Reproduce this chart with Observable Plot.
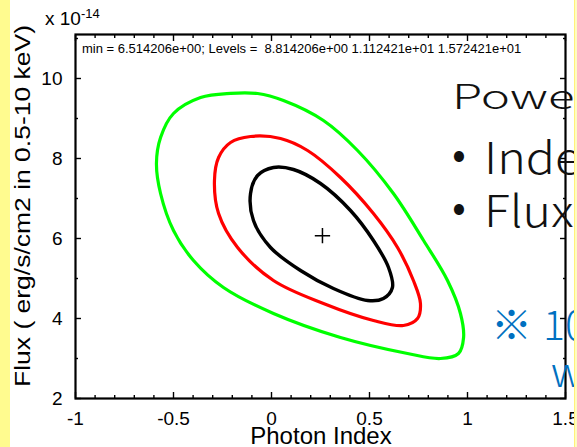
<!DOCTYPE html>
<html>
<head>
<meta charset="utf-8">
<script src="https://cdn.jsdelivr.net/npm/d3@7"></script>
<script src="https://cdn.jsdelivr.net/npm/@observablehq/plot@0.6"></script>
<style>
  body { margin: 0; background: #fff; }
  #wrap { position: relative; width: 577px; height: 447px; overflow: hidden; background: #fff; }
  #wrap svg { position: absolute; left: 0; top: 0; }
  .ov { position: absolute; white-space: nowrap; line-height: 1; font-family: "Noto Sans CJK JP", "Noto Sans", sans-serif; font-weight: 300; transform-origin: 0 0; }
  .blk { color: #111; }
  .blue { color: #0070c0; }
  #ylw-left { position: absolute; left: 0; top: 0; width: 10px; height: 447px; background: #fffb8f; }
  #ylw-right { position: absolute; left: 574px; top: 0; width: 3px; height: 447px; background: #fffcc0; border-left: 1px solid #fff27a; }
</style>
</head>
<body>
<div id="wrap"></div>
<script>
// ---- data (Photon Index, Flux in 1e-14 erg/s/cm2) ----
const greenX = [-0.587, -0.566, -0.500, -0.398, -0.245, 0.010, 0.352, 0.694, 0.862, 0.954, 0.980, 0.964, 0.898, 0.776, 0.622, 0.439, 0.265, 0.061, -0.071, -0.209, -0.362, -0.500, -0.566];
const greenY = [7.875, 7.125, 6.200, 5.450, 4.775, 4.125, 3.525, 3.125, 3.000, 3.125, 3.525, 4.125, 4.950, 5.950, 7.125, 8.200, 8.950, 9.450, 9.625, 9.630, 9.525, 9.125, 8.525];

const redX = [-0.107, -0.209, -0.270, -0.291, -0.270, -0.173, 0.010, 0.265, 0.520, 0.673, 0.745, 0.760, 0.724, 0.643, 0.520, 0.352, 0.184, 0.046];
const redY = [8.550, 8.400, 8.025, 7.450, 6.625, 5.775, 4.950, 4.375, 3.950, 3.825, 4.000, 4.375, 4.950, 5.775, 6.625, 7.525, 8.200, 8.500];

const blackX = [0.010, -0.071, -0.107, -0.092, -0.005, 0.148, 0.316, 0.490, 0.571, 0.617, 0.597, 0.520, 0.403, 0.250, 0.112];
const blackY = [7.775, 7.575, 7.125, 6.450, 5.775, 5.200, 4.750, 4.450, 4.500, 4.775, 5.275, 5.950, 6.700, 7.375, 7.725];

const bestFit = [{x: 0.26, y: 6.07}];

const xMajor = [-1, -0.5, 0, 0.5, 1, 1.5];
const xMinor = [-0.9, -0.8, -0.7, -0.6, -0.4, -0.3, -0.2, -0.1, 0.1, 0.2, 0.3, 0.4, 0.6, 0.7, 0.8, 0.9, 1.1, 1.2, 1.3, 1.4];
const yMajor = [2, 4, 6, 8, 10];
const yMinor = [3, 5, 7, 9, 11];

const infoText = "min = 6.514206e+00; Levels =  8.814206e+00 1.112421e+01 1.572421e+01";
const xLabel = "Photon Index";
const yLabel = "Flux ( erg/s/cm2 in 0.5-10 keV)";

const toRows = (xs, ys) => xs.map((x, i) => ({x, y: ys[i]}));
const green = toRows(greenX, greenY);
const red = toRows(redX, redY);
const black = toRows(blackX, blackY);

const fmt = d => String(d);
const blank = () => "";

const svg = Plot.plot({
  width: 577,
  height: 447,
  marginLeft: 75,
  marginRight: 12,
  marginTop: 34,
  marginBottom: 49,
  style: {background: "transparent", fontFamily: "'Liberation Sans', Arial, sans-serif", fontSize: "19px", color: "black", overflow: "visible"},
  x: {domain: [-1, 1.5]},
  y: {domain: [2, 11.1]},
  marks: [
    Plot.line(green, {x: "x", y: "y", stroke: "#00ff00", strokeWidth: 3.2, curve: "catmull-rom-closed"}),
    Plot.line(red, {x: "x", y: "y", stroke: "#ff0000", strokeWidth: 3.2, curve: "catmull-rom-closed"}),
    Plot.line(black, {x: "x", y: "y", stroke: "#000", strokeWidth: 3.4, curve: "catmull-rom-closed"}),
    Plot.dot(bestFit, {x: "x", y: "y", symbol: "plus", r: 5, stroke: "#000", strokeWidth: 1.5}),
    Plot.axisX({anchor: "bottom", ticks: xMajor, tickSize: -6, tickPadding: 19, tickFormat: fmt, label: null, strokeWidth: 1.4}),
    Plot.axisX({anchor: "bottom", ticks: xMinor, tickSize: -3, tickFormat: blank, label: null, strokeWidth: 1.4}),
    Plot.axisX({anchor: "top", ticks: xMajor, tickSize: -6, tickFormat: blank, label: null, strokeWidth: 1.4}),
    Plot.axisX({anchor: "top", ticks: xMinor, tickSize: -3, tickFormat: blank, label: null, strokeWidth: 1.4}),
    Plot.axisY({anchor: "left", ticks: yMajor, tickSize: -6, tickPadding: 19, tickFormat: fmt, label: null, strokeWidth: 1.4}),
    Plot.axisY({anchor: "left", ticks: yMinor, tickSize: -3, tickFormat: blank, label: null, strokeWidth: 1.4}),
    Plot.axisY({anchor: "right", ticks: yMajor, tickSize: -6, tickFormat: blank, label: null, strokeWidth: 1.4}),
    Plot.axisY({anchor: "right", ticks: yMinor, tickSize: -3, tickFormat: blank, label: null, strokeWidth: 1.4}),
    Plot.frame({stroke: "#000", strokeWidth: 2.2})
  ]
});

const s = d3.select(svg);
const ff = "'Liberation Sans', Arial, sans-serif";
s.append("text").attr("x", 82).attr("y", 53).attr("text-anchor", "start").attr("font-family", ff).attr("font-size", 13).attr("fill", "#000").text(infoText);
s.append("text").attr("x", 321).attr("y", 444).attr("text-anchor", "middle").attr("font-family", ff).attr("font-size", 24).attr("fill", "#000").text(xLabel);
s.append("text").attr("transform", "translate(30,206) rotate(-90)").attr("text-anchor", "middle")
  .attr("font-family", ff).attr("font-size", 22).attr("fill", "#000")
  .attr("textLength", 362).attr("lengthAdjust", "spacingAndGlyphs").text(yLabel);
const exp = s.append("text").attr("x", 45).attr("y", 25).attr("text-anchor", "start").attr("font-family", ff).attr("font-size", 19).attr("fill", "#000");
exp.append("tspan").text("x 10");
exp.append("tspan").attr("font-size", 13).attr("dy", -7).text("-14");

const wrap = document.getElementById("wrap");
wrap.appendChild(svg);

function ov(text, cls, left, top, size, sx) {
  const d = document.createElement("div");
  d.className = "ov " + cls;
  d.style.left = left + "px";
  d.style.top = top + "px";
  d.style.fontSize = size + "px";
  if (sx) d.style.transform = "scaleX(" + sx + ")";
  d.textContent = text;
  wrap.appendChild(d);
}
ov("Power-law", "blk", 452, 78, 34, 1.45);
ov("•", "blk", 452, 128, 44);
ov("Index", "blk", 484, 133, 44, 1.1);
ov("•", "blk", 452, 181, 44);
ov("Flux", "blk", 484, 186, 44, 1.1);
ov("※", "blue", 491, 302, 41);
ov("10", "blue", 543, 302, 41);
ov("w", "blue", 551, 349, 41);

const yl = document.createElement("div"); yl.id = "ylw-left"; wrap.appendChild(yl);
const yr = document.createElement("div"); yr.id = "ylw-right"; wrap.appendChild(yr);
</script>
</body>
</html>
